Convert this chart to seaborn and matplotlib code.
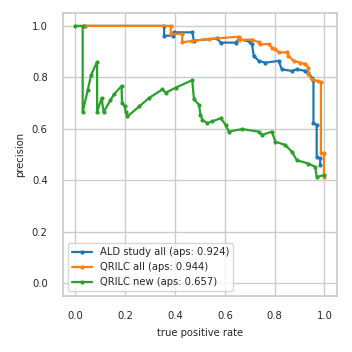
import pandas as pd
import matplotlib
matplotlib.use('Agg')
import matplotlib.pyplot as plt
import seaborn as sns

# データ (true positive rate / precision)
ald_x = [0.04, 0.356, 0.356, 0.39, 0.395, 0.47, 0.475, 0.57, 0.583, 0.643, 0.656,
         0.703, 0.709, 0.716, 0.736, 0.763, 0.816, 0.829, 0.869, 0.889, 0.923,
         0.936, 0.949, 0.956, 0.956, 0.969, 0.969, 0.983, 0.983]
ald_y = [1.0, 1.0, 0.962, 0.962, 0.975, 0.975, 0.943, 0.951, 0.935, 0.935, 0.949,
         0.938, 0.929, 0.884, 0.864, 0.857, 0.864, 0.831, 0.825, 0.831, 0.825,
         0.818, 0.799, 0.79, 0.622, 0.616, 0.491, 0.485, 0.46]

qrilc_all_x = [0.036, 0.383, 0.383, 0.429, 0.429, 0.469, 0.536, 0.656, 0.656,
               0.709, 0.736, 0.743, 0.776, 0.79, 0.803, 0.816, 0.849, 0.855,
               0.876, 0.903, 0.923, 0.936, 0.936, 0.949, 0.976, 0.986, 0.986,
               0.998, 0.998]
qrilc_all_y = [1.0, 1.0, 0.969, 0.969, 0.936, 0.942, 0.949, 0.958, 0.945,
               0.947, 0.936, 0.929, 0.929, 0.915, 0.91, 0.897, 0.897, 0.884,
               0.864, 0.857, 0.851, 0.838, 0.812, 0.792, 0.785, 0.78, 0.505,
               0.505, 0.413]

qrilc_new_x = [0.0, 0.029, 0.029, 0.049, 0.063, 0.087, 0.087, 0.105, 0.113, 0.14,
               0.155, 0.185, 0.187, 0.197, 0.202, 0.209, 0.256, 0.296, 0.349,
               0.362, 0.403, 0.469, 0.476, 0.496, 0.502, 0.51, 0.529, 0.55,
               0.583, 0.603, 0.616, 0.669, 0.736, 0.749, 0.789, 0.803, 0.843,
               0.869, 0.889, 0.936, 0.963, 0.969, 1.0]
qrilc_new_y = [1.0, 1.0, 0.665, 0.749, 0.81, 0.86, 0.665, 0.72, 0.665, 0.71,
               0.735, 0.766, 0.70, 0.69, 0.665, 0.648, 0.687, 0.72, 0.753,
               0.74, 0.76, 0.789, 0.714, 0.694, 0.655, 0.635, 0.622, 0.629,
               0.641, 0.616, 0.589, 0.599, 0.589, 0.576, 0.589, 0.55, 0.537,
               0.511, 0.478, 0.465, 0.452, 0.413, 0.42]

labels = ['ALD study all (aps: 0.924)', 'QRILC all (aps: 0.944)', 'QRILC new (aps: 0.657)']
colors = ['#1f77b4', '#ff7f0e', '#2ca02c']

sns.set_theme(style='whitegrid')
plt.rcParams['font.family'] = ['DejaVu Sans']

fig = plt.figure(figsize=(3.52, 3.52), dpi=100)
ax = fig.add_axes([0.179, 0.159, 0.778, 0.804])

series = [(ald_x, ald_y), (qrilc_all_x, qrilc_all_y), (qrilc_new_x, qrilc_new_y)]
for (xs, ys), lab, col in zip(series, labels, colors):
    df = pd.DataFrame({'tpr': xs, 'precision': ys})
    sns.lineplot(data=df, x='tpr', y='precision', sort=False, estimator=None,
                 marker='o', markersize=3, markeredgewidth=0, linewidth=1.6,
                 color=col, label=lab, ax=ax)

fs = 7.2
ax.set_xlim(-0.05, 1.05)
ax.set_ylim(-0.05, 1.05)
ax.set_xticks([0.0, 0.2, 0.4, 0.6, 0.8, 1.0])
ax.set_yticks([0.0, 0.2, 0.4, 0.6, 0.8, 1.0])
ax.tick_params(labelsize=fs, pad=5)
ax.set_xlabel('true positive rate', fontsize=fs, labelpad=5)
ax.set_ylabel('precision', fontsize=fs, labelpad=5)
ax.legend(loc='lower left', fontsize=fs, handlelength=2.0)

fig.savefig('out.png', dpi=100)
